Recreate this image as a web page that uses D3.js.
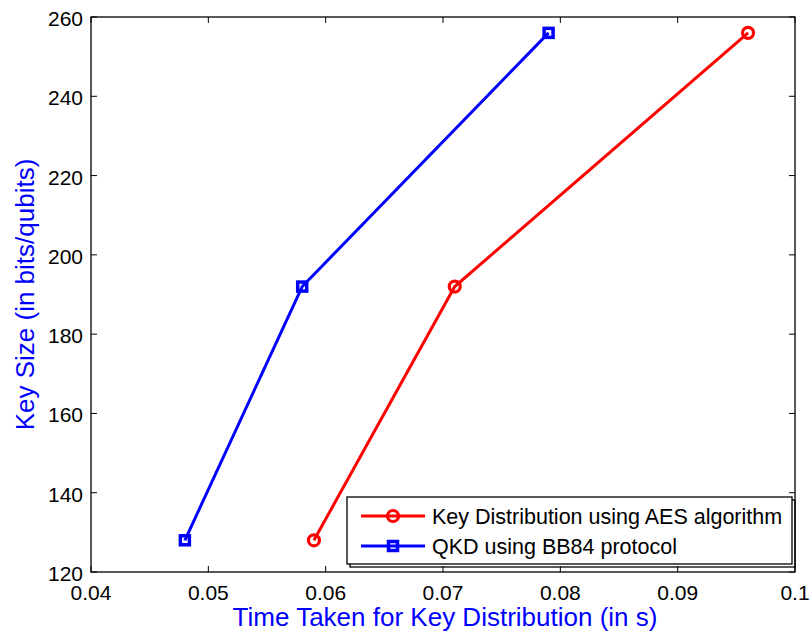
<!DOCTYPE html>
<html lang="en">
<head>
  <meta charset="UTF-8">
  <title>Key Distribution Time</title>
  <script src="https://d3js.org/d3.v7.min.js"></script>
  <style>
    body { margin: 0; background: #fff; font-family: "Liberation Sans", Arial, sans-serif; }
    svg text { font-family: "Liberation Sans", Arial, sans-serif; }
  </style>
</head>
<body>
  <div id="chart"></div>
  <script>
    const keySizes = [128, 192, 256];
    const aesTimes = [0.059, 0.071, 0.096];
    const qkdTimes = [0.048, 0.058, 0.079];
    const xTicks = [0.04, 0.05, 0.06, 0.07, 0.08, 0.09, 0.1];
    const yTicks = [120, 140, 160, 180, 200, 220, 240, 260];
    const seriesNames = ["Key Distribution using AES algorithm", "QKD using BB84 protocol"];

    const width = 810, height = 633;
    const margin = { top: 17, right: 15, bottom: 61, left: 91 };

    const x = d3.scaleLinear().domain([0.04, 0.1]).range([margin.left, width - margin.right]);
    const y = d3.scaleLinear().domain([120, 260]).range([height - margin.bottom, margin.top]);

    const svg = d3.select("#chart").append("svg")
      .attr("width", width)
      .attr("height", height);

    const x0 = margin.left, x1 = width - margin.right;
    const y0 = height - margin.bottom, y1 = margin.top;
    const tickLen = 6;

    // ticks on all four sides, pointing inward
    const ticks = svg.append("g").attr("stroke", "#000").attr("stroke-width", 1);
    xTicks.forEach(t => {
      ticks.append("line").attr("x1", x(t)).attr("x2", x(t)).attr("y1", y0).attr("y2", y0 - tickLen);
      ticks.append("line").attr("x1", x(t)).attr("x2", x(t)).attr("y1", y1).attr("y2", y1 + tickLen);
    });
    yTicks.forEach(t => {
      ticks.append("line").attr("x1", x0).attr("x2", x0 + tickLen).attr("y1", y(t)).attr("y2", y(t));
      ticks.append("line").attr("x1", x1).attr("x2", x1 - tickLen).attr("y1", y(t)).attr("y2", y(t));
    });

    svg.append("rect")
      .attr("x", x0).attr("y", y1)
      .attr("width", x1 - x0).attr("height", y0 - y1)
      .attr("fill", "none").attr("stroke", "#000").attr("stroke-width", 1.3);

    svg.append("g").selectAll("text")
      .data(xTicks).enter().append("text")
      .attr("x", d => x(d))
      .attr("y", y0 + 28)
      .attr("text-anchor", "middle")
      .attr("font-size", 21)
      .text(d => d3.format("~g")(d));

    svg.append("g").selectAll("text")
      .data(yTicks).enter().append("text")
      .attr("x", x0 - 8)
      .attr("y", d => y(d) + 9)
      .attr("text-anchor", "end")
      .attr("font-size", 21)
      .text(d => d);

    svg.append("text")
      .attr("x", 445)
      .attr("y", 626)
      .attr("text-anchor", "middle")
      .attr("font-size", 26)
      .attr("fill", "#0000ff")
      .text("Time Taken for Key Distribution (in s)");

    svg.append("text")
      .attr("transform", `translate(34,${(y0 + y1) / 2}) rotate(-90)`)
      .attr("text-anchor", "middle")
      .attr("font-size", 26)
      .attr("fill", "#0000ff")
      .text("Key Size (in bits/qubits)");

    const line = d3.line().x(d => x(d[0])).y(d => y(d[1]));
    const aes = aesTimes.map((t, i) => [t, keySizes[i]]);
    const qkd = qkdTimes.map((t, i) => [t, keySizes[i]]);

    function drawCircle(g, cx, cy) {
      g.append("circle").attr("cx", cx).attr("cy", cy).attr("r", 5.5)
        .attr("fill", "none").attr("stroke", "#ff0000").attr("stroke-width", 3.2);
    }
    function drawSquare(g, cx, cy) {
      g.append("rect").attr("x", cx - 4.5).attr("y", cy - 4.5).attr("width", 9).attr("height", 9)
        .attr("fill", "none").attr("stroke", "#0000ff").attr("stroke-width", 3.5);
    }

    svg.append("path").datum(aes).attr("d", line)
      .attr("fill", "none").attr("stroke", "#ff0000").attr("stroke-width", 3);
    svg.append("path").datum(qkd).attr("d", line)
      .attr("fill", "none").attr("stroke", "#0000ff").attr("stroke-width", 3);
    const marks = svg.append("g");
    aes.forEach(d => drawCircle(marks, x(d[0]), y(d[1])));
    qkd.forEach(d => drawSquare(marks, x(d[0]), y(d[1])));

    // legend
    const lg = svg.append("g");
    const lx = 347, ly = 497, lw = 445, lh = 67;
    lg.append("rect").attr("x", lx + 3).attr("y", ly + 3).attr("width", lw).attr("height", lh)
      .attr("fill", "none").attr("stroke", "#000").attr("stroke-width", 1.3);
    lg.append("rect").attr("x", lx).attr("y", ly).attr("width", lw).attr("height", lh)
      .attr("fill", "#fff").attr("stroke", "#000").attr("stroke-width", 1.3);
    const colors = ["#ff0000", "#0000ff"];
    seriesNames.forEach((name, i) => {
      const cy = ly + 19 + i * 30;
      lg.append("line").attr("x1", lx + 14).attr("x2", lx + 78).attr("y1", cy).attr("y2", cy)
        .attr("stroke", colors[i]).attr("stroke-width", 3);
      if (i === 0) drawCircle(lg, lx + 46, cy); else drawSquare(lg, lx + 46, cy);
      lg.append("text").attr("x", lx + 85).attr("y", cy + 8)
        .attr("font-size", 21.5).text(name);
    });
  </script>
</body>
</html>
